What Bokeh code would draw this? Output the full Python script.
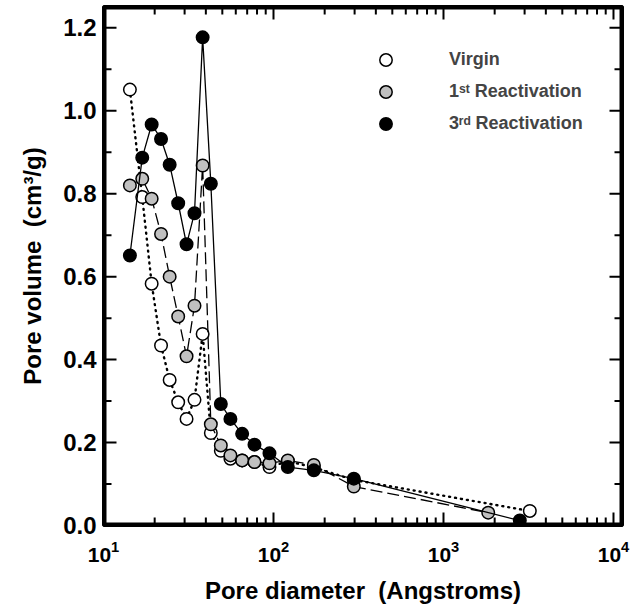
import numpy as np
from bokeh.plotting import figure
from bokeh.models import (Range1d, Legend, LegendItem,
                          SingleIntervalTicker, PrintfTickFormatter)
from bokeh.embed import file_html
from bokeh.resources import INLINE

# ---- data ----
diam = [14.3, 16.9, 19.2, 21.8, 24.5, 27.5, 30.8, 34.3, 38.3, 42.8,
        49.0, 55.8, 65.4, 77.3, 94.7, 121.4, 172.7, 296.8]
virgin_x = diam + [3220]
virgin_y = [1.051, 0.792, 0.583, 0.434, 0.351, 0.297, 0.257, 0.303, 0.462, 0.223,
            0.180, 0.161, 0.157, 0.153, 0.141, 0.155, 0.140, 0.110, 0.035]
first_x = diam + [1833]
first_y = [0.820, 0.836, 0.788, 0.703, 0.600, 0.504, 0.408, 0.530, 0.868, 0.244,
           0.193, 0.169, 0.157, 0.153, 0.150, 0.157, 0.146, 0.094, 0.031]
third_x = diam + [2811]
third_y = [0.651, 0.887, 0.967, 0.932, 0.870, 0.777, 0.678, 0.753, 1.177, 0.824,
           0.293, 0.257, 0.221, 0.195, 0.174, 0.141, 0.133, 0.113, 0.012]
series_labels = ["Virgin", "1\u02e2\u1d57 Reactivation", "3\u02b3\u1d48 Reactivation"]

# tick positions
x_major = [10, 100, 1000, 10000]
x_minor = [m * 10 ** k for k in (1, 2, 3) for m in range(2, 10)]
y_major = [0.0, 0.2, 0.4, 0.6, 0.8, 1.0, 1.2]
y_minor = [0.1, 0.3, 0.5, 0.7, 0.9, 1.1]

FONT = "Liberation Sans"
XMIN, XMAX = 10, 10 ** 4.053
YMIN, YMAX = 0.0, 1.2514
W, H = 641, 607
MB_L, MB_R, MB_T, MB_B = 103, 19, 6, 82
FW, FH = W - MB_L - MB_R, H - MB_T - MB_B
py = FH / (YMAX - YMIN)                 # px per y unit
px_dec = FW / np.log10(XMAX / XMIN)     # px per x decade
MAJ, MIN = 13, 8                        # tick lengths (px)

p = figure(width=W, height=H, x_axis_type="log",
           x_range=Range1d(XMIN, XMAX), y_range=Range1d(YMIN, YMAX),
           output_backend="svg", toolbar_location=None,
           min_border_left=MB_L, min_border_right=MB_R, min_border_top=MB_T,
           min_border_bottom=MB_B)
p.xgrid.visible = False
p.ygrid.visible = False
p.outline_line_color = "black"
p.outline_line_width = 3


def style_axis(ax):
    ax.axis_line_color = None
    ax.major_tick_line_color = None
    ax.minor_tick_line_color = None
    ax.major_tick_out = 0
    ax.minor_tick_out = 0
    ax.major_label_text_font = FONT
    ax.major_label_text_font_style = "bold"
    ax.major_label_text_color = "black"
    ax.axis_label_text_font = FONT
    ax.axis_label_text_font_style = "bold"
    ax.axis_label_text_color = "black"


xb = p.xaxis[0]
style_axis(xb)
xb.major_label_text_font_size = "21px"
xb.major_label_standoff = 15
xb.axis_label = "Pore diameter\u00a0 (Angstroms)"
xb.axis_label_text_font_size = "24px"
xb.axis_label_standoff = 12

yl = p.yaxis[0]
yl.ticker = SingleIntervalTicker(interval=0.2, num_minor_ticks=2)
yl.formatter = PrintfTickFormatter(format="%.1f")
style_axis(yl)
yl.major_label_text_font_size = "24px"
yl.major_label_standoff = 7
yl.axis_label = "Pore volume\u00a0 (cm\u00b3/g)"
yl.axis_label_text_font_size = "24px"
yl.axis_label_standoff = 14

# ---- frame and inward ticks on all four sides (drawn from the tick lists) ----
p.quad(left=[XMIN], right=[XMAX], bottom=[YMIN], top=[YMAX],
       fill_color=None, line_color="black", line_width=6)


def xticks(vals, L):
    dy = L / py
    x = list(vals)
    p.segment(x0=x, y0=[YMIN] * len(x), x1=x, y1=[YMIN + dy] * len(x),
              line_color="black", line_width=2)
    p.segment(x0=x, y0=[YMAX] * len(x), x1=x, y1=[YMAX - dy] * len(x),
              line_color="black", line_width=2)


def yticks(vals, L):
    f = 10 ** (L / px_dec)
    y = list(vals)
    p.segment(x0=[XMIN] * len(y), y0=y, x1=[XMIN * f] * len(y), y1=y,
              line_color="black", line_width=2)
    p.segment(x0=[XMAX] * len(y), y0=y, x1=[XMAX / f] * len(y), y1=y,
              line_color="black", line_width=2)


xticks(x_major, MAJ)
xticks(x_minor, MIN)
yticks(y_major, MAJ)
yticks(y_minor, MIN)

# ---- series ----
p.line(virgin_x, virgin_y, line_color="black", line_width=2.4,
       line_dash="1 5", line_cap="round")
v_sc = p.scatter(virgin_x, virgin_y, size=12.5, marker="circle", fill_color="white",
                 line_color="black", line_width=1.5)
p.line(first_x, first_y, line_color="black", line_width=1.3, line_dash="12 5")
f_sc = p.scatter(first_x, first_y, size=12.5, marker="circle", fill_color="#c0c0c0",
                 line_color="black", line_width=1.5)
p.line(third_x, third_y, line_color="black", line_width=1.3)
t_sc = p.scatter(third_x, third_y, size=12.5, marker="circle", fill_color="black",
                 line_color="black", line_width=1.5)

legend = Legend(items=[LegendItem(label=series_labels[0], renderers=[v_sc]),
                       LegendItem(label=series_labels[1], renderers=[f_sc]),
                       LegendItem(label=series_labels[2], renderers=[t_sc])],
                location=(267, 386), padding=0, margin=0, spacing=1,
                glyph_width=31, glyph_height=31, label_height=31,
                label_standoff=48, border_line_color=None,
                background_fill_alpha=0)
legend.label_text_font = FONT
legend.label_text_font_style = "bold"
legend.label_text_font_size = "18px"
legend.label_text_baseline = "middle"
p.add_layout(legend)

open("out.html", "w").write(file_html(p, INLINE))
